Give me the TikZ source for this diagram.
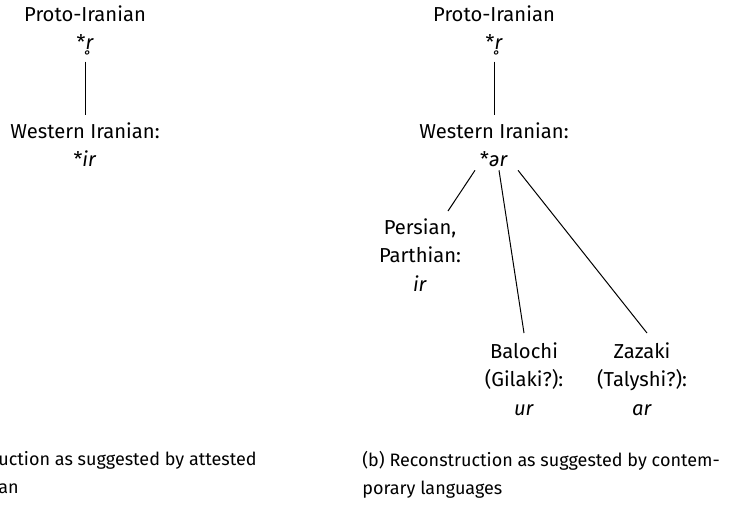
\documentclass[tikz,border=0pt]{standalone}
\usepackage{fontspec}
\setmainfont{Fira Sans}
\usetikzlibrary{calc}

\begin{document}
\begin{tikzpicture}[x=0.5pt,y=-0.5pt,
    lang/.style={align=center,inner sep=0pt,anchor=north,font=\fontsize{10.1}{14.25}\selectfont},
    capt/.style={align=left,inner sep=0pt,anchor=north west,font=\fontsize{9}{14}\selectfont},
    branch/.style={line width=0.5pt}]
  \useasboundingbox (0,0) rectangle (733,511);
  % (a) attested
  \coordinate (ProtoA) at (85,5);
  \coordinate (WestA) at (85,122);
  \node[lang] (protoA) at (ProtoA) {Proto-Iranian\\*\textit{r̥}};
  \node[lang] (westA) at (WestA) {Western Iranian:\\*\textit{ir}};
  \draw[branch] ($(protoA.south)+(0,6)$)--($(westA.north)+(0,-7)$);
  % (b) contemporary
  \coordinate (ProtoB) at (494,5);
  \coordinate (WestB) at (494,122);
  \node[lang] (protoB) at (ProtoB) {Proto-Iranian\\*\textit{r̥}};
  \node[lang] (westB) at (WestB) {Western Iranian:\\*\textit{ər}};
  \node[lang] (persian) at (420,218) {Persian,\\Parthian:\\\textit{ir}};
  \node[lang] (balochi) at (524,342) {Balochi\\(Gilaki?):\\\textit{ur}};
  \node[lang] (zazaki) at (642,342) {Zazaki\\(Talyshi?):\\\textit{ar}};
  \draw[branch] ($(protoB.south)+(0,6)$)--($(westB.north)+(0,-7)$);
  \draw[branch] ($(westB.south)+(-19,3)$)--($(persian.north)+(28,-7)$);
  \draw[branch] ($(westB.south)+(5,3)$)--($(balochi.north)+(0,-9)$);
  \draw[branch] ($(westB.south)+(24,3)$)--($(zazaki.north)+(5,-9)$);
  % captions
  \node[capt] (captA) at (-2,451) {uction as suggested by attested\\an};
  \node[capt] (captB) at (362,451) {(b) Reconstruction as suggested by contem-\\porary languages};
\end{tikzpicture}
\end{document}
